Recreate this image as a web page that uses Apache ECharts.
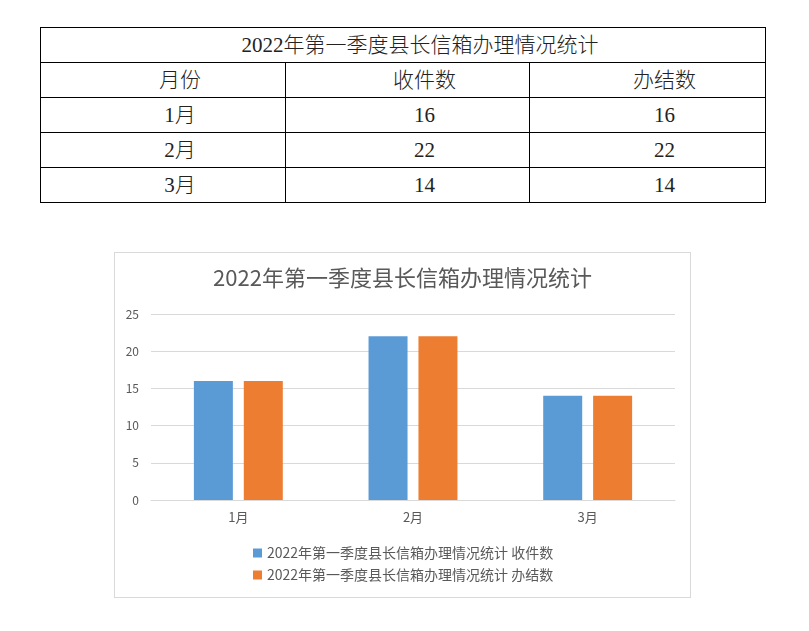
<!DOCTYPE html>
<html><head><meta charset="utf-8">
<script src="https://cdn.jsdelivr.net/npm/echarts@6/dist/echarts.min.js"></script>
<style>
html,body{margin:0;padding:0;background:#fff;width:809px;height:631px;overflow:hidden;}
#tbl{position:absolute;left:40px;top:27px;width:725px;table-layout:fixed;border-collapse:collapse;font-family:"Liberation Serif","DejaVu Serif","Noto Sans CJK SC",serif;font-size:21px;font-weight:300;color:#222;}
#tbl td{border:1px solid #000;text-align:center;height:35px;padding:0 0 0 34px;line-height:33px;box-sizing:border-box;}
#chart{position:absolute;left:114px;top:252px;width:575px;height:344px;border:1px solid #d9d9d9;}
</style></head>
<body>
<table id="tbl"><colgroup><col style="width:245px"><col style="width:244px"><col style="width:236px"></colgroup><tbody id="tb"></tbody></table>
<div id="chart"></div>
<script>
var title = '2022年第一季度县长信箱办理情况统计';
var headers = ['月份','收件数','办结数'];
var categories = ['1月','2月','3月'];
var received = [16,22,14];
var completed = [16,22,14];
var yTicks = [0,5,10,15,20,25];

var html = '<tr><td colspan="3">'+title+'</td></tr>';
html += '<tr>' + headers.map(function(h){return '<td>'+h+'</td>';}).join('') + '</tr>';
for (var i=0;i<categories.length;i++){
  html += '<tr><td>'+categories[i]+'</td><td>'+received[i]+'</td><td>'+completed[i]+'</td></tr>';
}
document.getElementById('tb').innerHTML = html;

var chart = echarts.init(document.getElementById('chart'));
var font = '"Noto Sans CJK SC","Open Sans",sans-serif';
chart.setOption({
  animation:false,
  title:{text:title,left:'center',top:9,textStyle:{fontSize:22,fontWeight:'normal',color:'#595959',fontFamily:font}},
  legend:{orient:'vertical',left:133,top:288,itemWidth:9,itemHeight:9,itemGap:8,icon:'rect',
    textStyle:{fontSize:14,color:'#595959',fontFamily:font},
    data:[title+' '+headers[1], title+' '+headers[2]]},
  grid:{left:36,right:15,top:61,bottom:97},
  xAxis:{type:'category',data:categories,axisTick:{show:false},
    axisLine:{lineStyle:{color:'#d9d9d9'}},
    axisLabel:{color:'#595959',fontSize:13,margin:11,fontFamily:font}},
  yAxis:{type:'value',min:yTicks[0],max:yTicks[yTicks.length-1],interval:5,
    axisLine:{show:false},axisTick:{show:false},
    splitLine:{lineStyle:{color:'#d9d9d9'}},
    axisLabel:{color:'#595959',fontSize:12,margin:12,fontFamily:font}},
  series:[
    {name:title+' '+headers[1],type:'bar',data:received,barWidth:39,barGap:'28%',itemStyle:{color:'#5b9bd5'}},
    {name:title+' '+headers[2],type:'bar',data:completed,barWidth:39,barGap:'28%',itemStyle:{color:'#ed7d31'}}
  ]
});
</script>
</body></html>
